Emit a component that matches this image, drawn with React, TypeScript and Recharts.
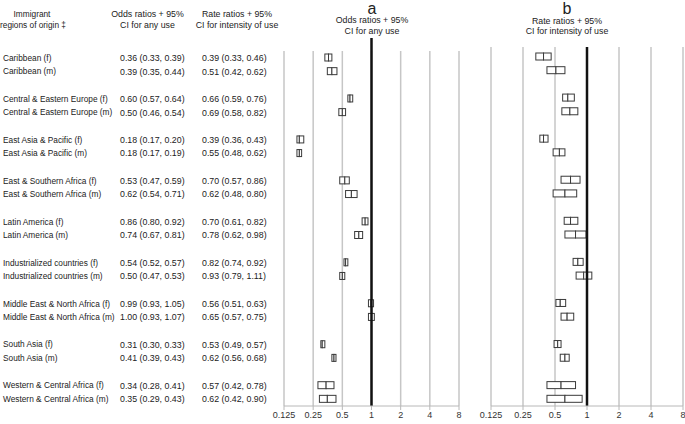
import React from 'react'
import { BarChart, Bar, XAxis, YAxis, CartesianGrid, ReferenceLine } from 'recharts'

const regions = [
  'Caribbean',
  'Central & Eastern Europe',
  'East Asia & Pacific',
  'East & Southern Africa',
  'Latin America',
  'Industrialized countries',
  'Middle East & North Africa',
  'South Asia',
  'Western & Central Africa',
]
const sexes = ['f', 'm']

// odds ratios for any use (f, m per region)
const orEst = [0.36, 0.39, 0.60, 0.50, 0.18, 0.18, 0.53, 0.62, 0.86, 0.74, 0.54, 0.50, 0.99, 1.00, 0.31, 0.41, 0.34, 0.35]
const orLo = [0.33, 0.35, 0.57, 0.46, 0.17, 0.17, 0.47, 0.54, 0.80, 0.67, 0.52, 0.47, 0.93, 0.93, 0.30, 0.39, 0.28, 0.29]
const orHi = [0.39, 0.44, 0.64, 0.54, 0.20, 0.19, 0.59, 0.71, 0.92, 0.81, 0.57, 0.53, 1.05, 1.07, 0.33, 0.43, 0.41, 0.43]

// rate ratios for intensity of use
const rrEst = [0.39, 0.51, 0.66, 0.69, 0.39, 0.55, 0.70, 0.62, 0.70, 0.78, 0.82, 0.93, 0.56, 0.65, 0.53, 0.62, 0.57, 0.62]
const rrLo = [0.33, 0.42, 0.59, 0.58, 0.36, 0.48, 0.57, 0.48, 0.61, 0.62, 0.74, 0.79, 0.51, 0.57, 0.49, 0.56, 0.42, 0.42]
const rrHi = [0.46, 0.62, 0.76, 0.82, 0.43, 0.62, 0.86, 0.80, 0.82, 0.98, 0.92, 1.11, 0.63, 0.75, 0.57, 0.68, 0.78, 0.90]

const xTicks = [0.125, 0.25, 0.5, 1, 2, 4, 8]

type Row = {
  key: string
  gap: boolean
  label?: string
  orEst?: number; orLo?: number; orHi?: number
  rrEst?: number; rrLo?: number; rrHi?: number
}

const rows: Row[] = []
regions.forEach((reg, r) => {
  if (r > 0) rows.push({ key: 'gap' + r, gap: true })
  sexes.forEach((s, j) => {
    const i = r * 2 + j
    rows.push({
      key: reg + ' (' + s + ')', gap: false, label: reg + ' (' + s + ')',
      orEst: orEst[i], orLo: orLo[i], orHi: orHi[i],
      rrEst: rrEst[i], rrLo: rrLo[i], rrHi: rrHi[i],
    })
  })
})
const byKey = new Map(rows.map(r => [r.key, r]))

const FONT = '"Liberation Sans", Arial, sans-serif'
const fmt = (e?: number, l?: number, h?: number) =>
  `${e!.toFixed(2)} (${l!.toFixed(2)}, ${h!.toFixed(2)})`

const TableTick = (props: any) => {
  const { y, payload } = props
  const r = byKey.get(payload.value)
  if (!r || r.gap) return <g />
  return (
    <g fill="#222" fontFamily={FONT}>
      <text x={3} y={y} dy="0.35em" fontSize={8.3}>{r.label}</text>
      <text x={120} y={y} dy="0.35em" fontSize={8.8}>{fmt(r.orEst, r.orLo, r.orHi)}</text>
      <text x={202} y={y} dy="0.35em" fontSize={8.8}>{fmt(r.rrEst, r.rrLo, r.rrHi)}</text>
    </g>
  )
}

const boxShape = (p: any) => {
  if (p.payload.gap || !isFinite(p.width) || !isFinite(p.x)) return <g />
  return <rect x={p.x} y={p.y} width={Math.abs(p.width)} height={p.height} fill="#fff" stroke="#3a3a3a" strokeWidth={1} />
}

const thickLine = (extra: number) => (p: any) => {
  const top = Math.min(p.y1, p.y2) - extra
  const bot = Math.max(p.y1, p.y2)
  return <line x1={p.x1} x2={p.x2} y1={top} y2={bot} stroke="#111" strokeWidth={2.5} />
}

const tickStyle = { fontSize: 9, fill: '#333', fontFamily: FONT }

const hdr: React.CSSProperties = {
  position: 'absolute', fontFamily: FONT, fontSize: 8.8, color: '#222', textAlign: 'center',
  lineHeight: '11px', whiteSpace: 'nowrap',
}
const big: React.CSSProperties = { ...hdr, top: 0, width: 100, fontSize: 16, lineHeight: '18px' }

const App: React.FC = () => {
  return (
    <div style={{ position: 'absolute', left: 0, top: 0, width: 685, height: 424, background: '#fff' }}>
      <div style={{ ...hdr, left: 0, top: 9, width: 64, fontSize: 8.3 }}>Immigrant<br />regions of origin ‡</div>
      <div style={{ ...hdr, left: 100, top: 9, width: 95 }}>Odds ratios + 95%<br />CI for any use</div>
      <div style={{ ...hdr, left: 185, top: 9, width: 104 }}>Rate ratios + 95%<br />CI for intensity of use</div>

      <div style={{ ...big, left: 322 }}>a</div>
      <div style={{ ...hdr, left: 322, top: 15, width: 100, lineHeight: '10.5px' }}>Odds ratios + 95%<br />CI for any use</div>
      <div style={{ ...big, left: 517 }}>b</div>
      <div style={{ ...hdr, left: 507, top: 15.5, width: 120, lineHeight: '10.5px' }}>Rate ratios + 95%<br />CI for intensity of use</div>

      <div style={{ position: 'absolute', left: 0, top: 0 }}>
        <BarChart width={470} height={424} data={rows} layout="vertical"
          margin={{ top: 51, right: 11, left: 0, bottom: 0 }} barGap={-7}>
          <CartesianGrid vertical horizontal={false} stroke="#c6c6c6" strokeWidth={1.5} verticalValues={xTicks} />
          <XAxis type="number" scale="log" domain={[0.125, 8]} ticks={xTicks} allowDataOverflow
            interval={0} height={18} tick={tickStyle} tickSize={4} tickMargin={2}
            stroke="#b8b8b8" tickFormatter={(v: number) => String(v)} />
          <YAxis type="category" dataKey="key" width={284} interval={0} axisLine={false}
            tickLine={false} tick={<TableTick />} />
          <ReferenceLine x={1} shape={thickLine(13)} />
          <Bar dataKey={(d: Row) => (d.gap ? null : [d.orLo, d.orEst])} barSize={7}
            shape={boxShape} isAnimationActive={false} />
          <Bar dataKey={(d: Row) => (d.gap ? null : [d.orEst, d.orHi])} barSize={7}
            shape={boxShape} isAnimationActive={false} />
        </BarChart>
      </div>

      <div style={{ position: 'absolute', left: 470, top: 0 }}>
        <BarChart width={215} height={424} data={rows} layout="vertical"
          margin={{ top: 47, right: 2, left: 21, bottom: 0 }} barGap={-7}>
          <CartesianGrid vertical horizontal={false} stroke="#c6c6c6" strokeWidth={1.5} verticalValues={xTicks} />
          <XAxis type="number" scale="log" domain={[0.125, 8]} ticks={xTicks} allowDataOverflow
            interval={0} height={18} tick={tickStyle} tickSize={4} tickMargin={2}
            stroke="#b8b8b8" tickFormatter={(v: number) => String(v)} />
          <YAxis type="category" dataKey="key" hide width={0} padding={{ top: 3, bottom: 0 }} />
          <ReferenceLine x={1} shape={thickLine(0)} />
          <Bar dataKey={(d: Row) => (d.gap ? null : [d.rrLo, d.rrEst])} barSize={7}
            shape={boxShape} isAnimationActive={false} />
          <Bar dataKey={(d: Row) => (d.gap ? null : [d.rrEst, d.rrHi])} barSize={7}
            shape={boxShape} isAnimationActive={false} />
        </BarChart>
      </div>
    </div>
  )
}

export default App
